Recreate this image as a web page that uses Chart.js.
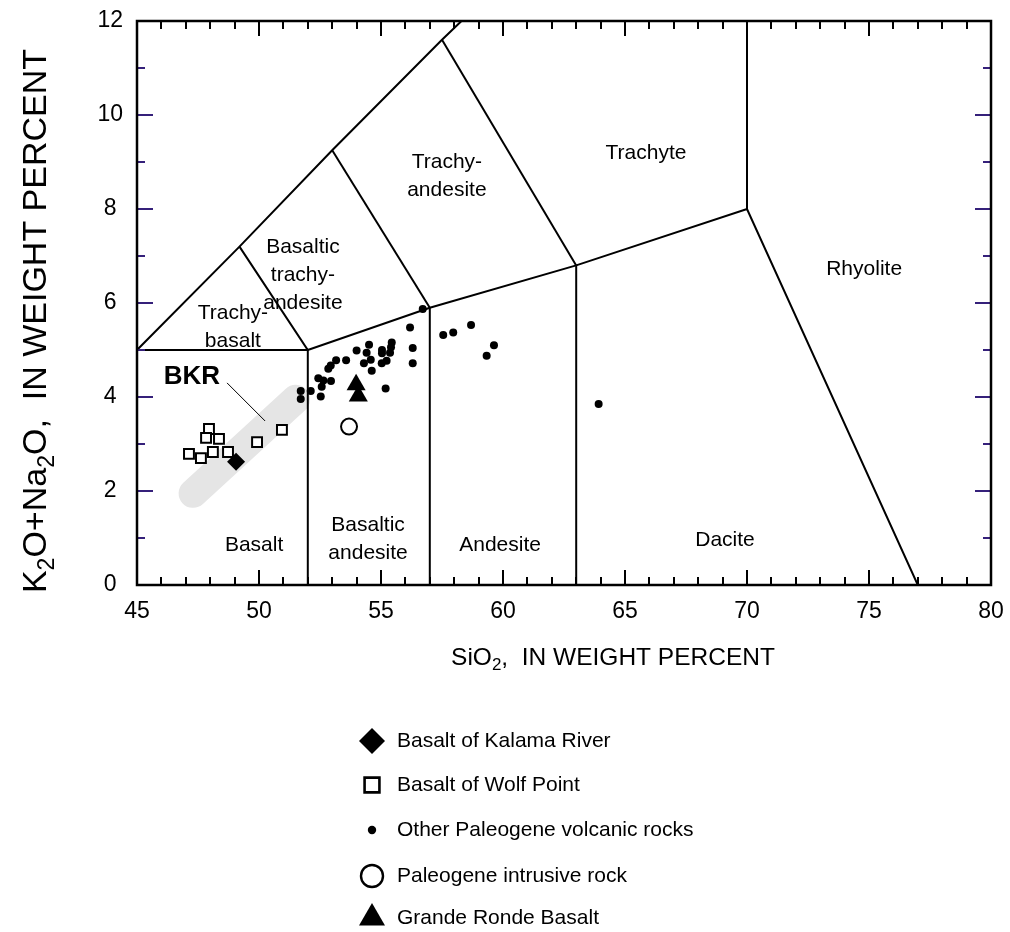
<!DOCTYPE html>
<html>
<head>
<meta charset="utf-8">
<script src="https://cdn.jsdelivr.net/npm/chart.js@4.4.0/dist/chart.umd.min.js"></script>
<style>
  html, body { margin: 0; padding: 0; background: #ffffff; }
  canvas { display: block; }
</style>
</head>
<body>
<canvas id="tas" width="1010" height="932"></canvas>
<script>
const FONT = '"Liberation Sans", Arial, Helvetica, sans-serif';

// Axis ranges and tick labels
const xTicks = [45, 50, 55, 60, 65, 70, 75, 80];
const yTicks = [0, 2, 4, 6, 8, 10, 12];

// Sample analyses: SiO2 and Na2O+K2O, weight percent
const kalamaSiO2 = [49.06];
const kalamaAlk  = [2.62];

const wolfSiO2 = [47.95, 47.83, 48.36, 47.13, 47.62, 48.11, 48.73, 49.92, 50.94];
const wolfAlk  = [3.32, 3.13, 3.11, 2.79, 2.70, 2.83, 2.83, 3.04, 3.30];

const otherSiO2 = [56.71, 56.19, 56.30, 56.30, 55.44, 55.41, 55.37, 55.04, 55.04, 55.23,
                   55.03, 54.51, 54.41, 54.58, 54.30, 54.62, 54.00, 53.57, 53.16, 52.94,
                   52.84, 52.43, 52.64, 52.57, 52.95, 52.12, 51.71, 51.71, 52.53, 55.19,
                   57.55, 57.96, 58.69, 59.63, 59.33, 63.92];
const otherAlk  = [5.87, 5.48, 5.04, 4.72, 5.16, 5.06, 4.94, 5.00, 4.93, 4.77,
                   4.72, 5.11, 4.94, 4.79, 4.72, 4.56, 4.99, 4.78, 4.78, 4.67,
                   4.60, 4.40, 4.35, 4.22, 4.34, 4.13, 4.13, 3.96, 4.01, 4.18,
                   5.32, 5.37, 5.53, 5.10, 4.88, 3.85];

const intrusiveSiO2 = [53.69];
const intrusiveAlk  = [3.37];

const grandeRondeSiO2 = [53.98, 54.07];
const grandeRondeAlk  = [4.26, 4.02];

// BKR field (axis of the shaded band) and its leader
const bkrSiO2 = [47.3, 51.5];
const bkrAlk  = [1.95, 3.95];
const bkrLeaderSiO2 = [48.69, 50.25];
const bkrLeaderAlk  = [4.30, 3.49];

// TAS field boundaries
const bndSiO2 = [
  [45, 52],
  [45, 49.2, 53, 57.5, 58.3],
  [49.2, 52, 57, 63, 70, 77],
  [53, 57],
  [57.5, 63],
  [52, 52],
  [57, 57],
  [63, 63],
  [70, 70]
];
const bndAlk = [
  [5, 5],
  [5, 7.2, 9.25, 11.6, 12],
  [7.2, 5, 5.9, 6.8, 8, 0],
  [9.25, 5.9],
  [11.6, 6.8],
  [0, 5],
  [0, 5.9],
  [0, 6.8],
  [8, 12]
];

// Field names
const fieldNames = [
  ['Trachy-', 'basalt'],
  ['Basaltic', 'trachy-', 'andesite'],
  ['Trachy-', 'andesite'],
  ['Trachyte'],
  ['Rhyolite'],
  ['Basalt'],
  ['Basaltic', 'andesite'],
  ['Andesite'],
  ['Dacite']
];
const fieldNameSiO2 = [48.93, 51.80, 57.70, 65.86, 74.80, 49.80, 54.47, 59.88, 69.10];
const fieldNameAlk  = [5.79, 7.19, 9.00, 9.19, 6.72, 0.85, 1.28, 0.85, 0.96];

const legendLabels = [
  'Basalt of Kalama River',
  'Basalt of Wolf Point',
  'Other Paleogene volcanic rocks',
  'Paleogene intrusive rock',
  'Grande Ronde Basalt'
];

const pts = (xs, ys) => xs.map((x, i) => ({ x: x, y: ys[i] }));

const datasets = [];

datasets.push({
  label: 'BKR',
  data: pts(bkrSiO2, bkrAlk),
  showLine: true,
  borderColor: '#e5e5e5',
  borderWidth: 29,
  borderCapStyle: 'round',
  pointRadius: 0,
  order: 100
});

bndSiO2.forEach((xs, i) => {
  datasets.push({
    label: 'boundary' + i,
    data: pts(xs, bndAlk[i]),
    showLine: true,
    borderColor: '#000000',
    borderWidth: 2,
    pointRadius: 0,
    clip: 0,
    order: 50
  });
});

datasets.push({
  label: 'BKR leader',
  data: pts(bkrLeaderSiO2, bkrLeaderAlk),
  showLine: true,
  borderColor: '#000000',
  borderWidth: 1,
  pointRadius: 0,
  order: 49
});

const markers = [
  { style: 'rectRot', r: 9, fill: '#000', bw: 0, lr: 13, lbw: 0 },
  { style: 'rect', r: 7, fill: '#fff', bw: 2, lr: 10.5, lbw: 2.6 },
  { style: 'circle', r: 4, fill: '#000', bw: 0, lr: 4.2, lbw: 0 },
  { style: 'circle', r: 8, fill: '#fff', bw: 2, lr: 11, lbw: 2.4 },
  { style: 'triangle', r: 11, fill: '#000', bw: 0, lr: 15, lbw: 0 }
];

const groups = [
  pts(kalamaSiO2, kalamaAlk),
  pts(wolfSiO2, wolfAlk),
  pts(otherSiO2, otherAlk),
  pts(intrusiveSiO2, intrusiveAlk),
  pts(grandeRondeSiO2, grandeRondeAlk)
];
const groupOrder = [2, 3, 5, 4, 1];

groups.forEach((data, i) => {
  const m = markers[i];
  datasets.push({
    label: legendLabels[i],
    data: data,
    pointStyle: m.style,
    pointRadius: m.r,
    pointHoverRadius: m.r,
    pointBackgroundColor: m.fill,
    pointBorderColor: '#000',
    pointBorderWidth: m.bw,
    order: groupOrder[i]
  });
});

const area = { left: 137, right: 991, top: 21, bottom: 585 };

function richWidth(ctx, parts, size) {
  let w = 0;
  parts.forEach(p => {
    ctx.font = (p[1] ? Math.round(size * 0.68) : size) + 'px ' + FONT;
    w += ctx.measureText(p[0]).width;
  });
  return w;
}

// text with subscripts, centred on (cx, cy); parts: [text, isSubscript]
function drawRich(ctx, parts, size, cx, cy) {
  const w = richWidth(ctx, parts, size);
  let x = cx - w / 2;
  ctx.textBaseline = 'middle';
  ctx.textAlign = 'left';
  parts.forEach(p => {
    const s = p[1] ? Math.round(size * 0.68) : size;
    ctx.font = s + 'px ' + FONT;
    ctx.fillText(p[0], x, p[1] ? cy + size * 0.3 : cy);
    x += ctx.measureText(p[0]).width;
  });
}

const decor = {
  id: 'decor',
  afterDatasetsDraw(chart) {
    const ctx = chart.ctx;
    const xs = chart.scales.x, ys = chart.scales.y;
    ctx.save();
    ctx.fillStyle = '#000';
    ctx.textAlign = 'center';
    ctx.textBaseline = 'middle';
    ctx.font = '21px ' + FONT;
    fieldNames.forEach((lines, i) => {
      const px = xs.getPixelForValue(fieldNameSiO2[i]);
      const py = ys.getPixelForValue(fieldNameAlk[i]);
      lines.forEach((t, k) => ctx.fillText(t, px, py + k * 28));
    });
    ctx.font = 'bold 26px ' + FONT;
    ctx.fillText('BKR', xs.getPixelForValue(47.25), ys.getPixelForValue(4.42));
    ctx.restore();
  },
  afterDraw(chart) {
    const ctx = chart.ctx;
    const ca = chart.chartArea;
    const xs = chart.scales.x, ys = chart.scales.y;
    ctx.save();
    // tick marks pointing inward
    ctx.lineWidth = 2;
    ctx.strokeStyle = '#000';
    for (let v = 46; v < 80; v++) {
      const px = Math.round(xs.getPixelForValue(v));
      const len = v % 5 === 0 ? 15 : 8;
      ctx.beginPath();
      ctx.moveTo(px, ca.bottom); ctx.lineTo(px, ca.bottom - len);
      ctx.moveTo(px, ca.top); ctx.lineTo(px, ca.top + len);
      ctx.stroke();
    }
    ctx.strokeStyle = '#35207a';
    for (let v = 1; v < 12; v++) {
      const py = Math.round(ys.getPixelForValue(v));
      const len = v % 2 === 0 ? 16 : 8;
      ctx.beginPath();
      ctx.moveTo(ca.left, py); ctx.lineTo(ca.left + len, py);
      ctx.moveTo(ca.right, py); ctx.lineTo(ca.right - len, py);
      ctx.stroke();
    }
    // frame
    ctx.strokeStyle = '#000';
    ctx.lineWidth = 2.5;
    ctx.strokeRect(ca.left, ca.top, ca.right - ca.left, ca.bottom - ca.top);

    // axis titles
    ctx.fillStyle = '#000';
    drawRich(ctx, [['SiO', 0], ['2', 1], [',  IN WEIGHT PERCENT', 0]], 24.5, 613, 658);
    ctx.save();
    ctx.translate(37, 321);
    ctx.rotate(-Math.PI / 2);
    drawRich(ctx, [['K', 0], ['2', 1], ['O+Na', 0], ['2', 1], ['O,  IN WEIGHT PERCENT', 0]], 34, 0, 0);
    ctx.restore();

    // legend
    const lx = 372, tx = 397;
    const rowY = [741, 785, 830, 876, 918];
    legendLabels.forEach((t, i) => {
      const m = markers[i];
      ctx.fillStyle = m.fill;
      ctx.strokeStyle = '#000';
      ctx.lineWidth = m.lbw;
      Chart.helpers.drawPoint(ctx, { pointStyle: m.style, radius: m.lr, borderWidth: m.lbw, rotation: 0 }, lx, rowY[i]);
      ctx.fillStyle = '#000';
      ctx.font = '21px ' + FONT;
      ctx.textAlign = 'left';
      ctx.textBaseline = 'middle';
      ctx.fillText(t, tx, rowY[i]);
    });
    ctx.restore();
  }
};

new Chart(document.getElementById('tas'), {
  type: 'scatter',
  data: { datasets: datasets },
  options: {
    responsive: false,
    animation: false,
    events: [],
    layout: { padding: { left: 0, top: area.top, right: 1010 - area.right, bottom: 0 } },
    plugins: { legend: { display: false }, tooltip: { enabled: false } },
    scales: {
      x: {
        type: 'linear',
        min: 45, max: 80,
        afterBuildTicks: s => { s.ticks = xTicks.map(v => ({ value: v })); },
        afterFit: s => {
          s.height = 932 - area.bottom;
          s.paddingLeft = 0; s.paddingRight = 0;
        },
        grid: { display: false, drawTicks: false },
        border: { display: false },
        ticks: { padding: 13, color: '#000', font: { family: FONT, size: 23 } }
      },
      y: {
        type: 'linear',
        min: 0, max: 12,
        afterBuildTicks: s => { s.ticks = yTicks.map(v => ({ value: v })); },
        afterFit: s => {
          s.width = area.left;
          s.paddingTop = 0; s.paddingBottom = 0;
        },
        grid: { display: false, drawTicks: false },
        border: { display: false },
        ticks: { padding: 14, crossAlign: 'center', color: '#000', font: { family: FONT, size: 23 } }
      }
    }
  },
  plugins: [decor]
});
</script>
</body>
</html>
